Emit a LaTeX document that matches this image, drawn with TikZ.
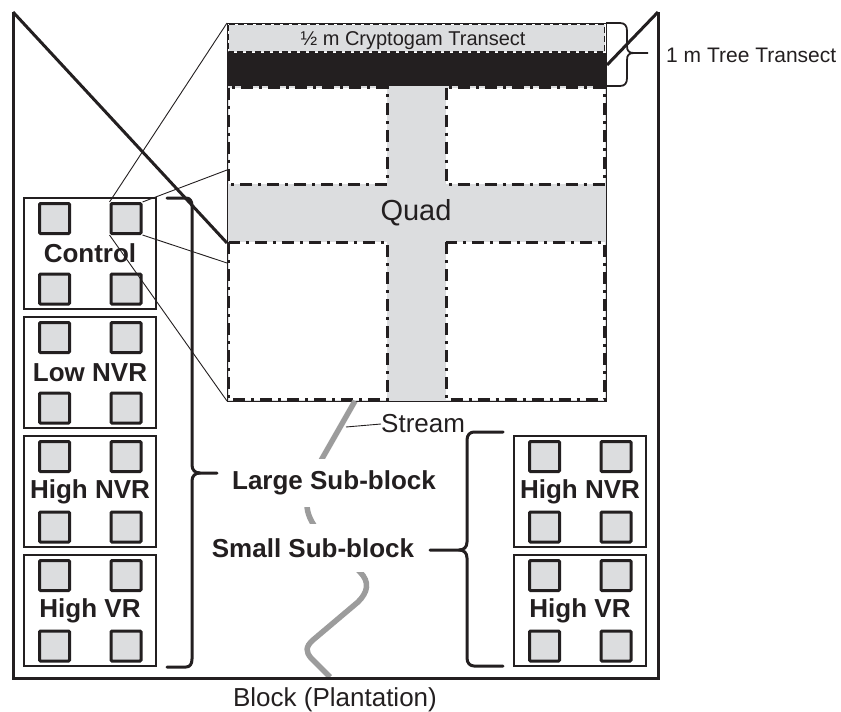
\documentclass[tikz,border=0pt]{standalone}
\usepackage{fontspec}
\setmainfont{Liberation Sans}
\usetikzlibrary{calc}
\definecolor{ink}{HTML}{231F20}
\definecolor{lightg}{HTML}{DCDDDF}
\definecolor{streamg}{HTML}{9C9C9C}
\newcommand\plotunit[4]{%
  \node[plotbox] (#1) at (#2,#3) {#4};
  \node[sq] (#1-a) at ($(#1.center)+(-35.5,-35)$) {};
  \node[sq] (#1-b) at ($(#1.center)+(36,-35)$) {};
  \node[sq] (#1-c) at ($(#1.center)+(-35.5,35.5)$) {};
  \node[sq] (#1-d) at ($(#1.center)+(36,35.5)$) {};
}
\begin{document}
\begin{tikzpicture}[x=1pt,y=-1pt,
  blockline/.style={draw=ink,line width=3pt},
  plotbox/.style={draw=ink,line width=1.8pt,minimum width=132pt,minimum height=111pt,inner sep=0pt,font=\bfseries\fontsize{26pt}{30pt}\selectfont,text=ink},
  sq/.style={draw=ink,fill=lightg,line width=3pt,minimum size=30pt,inner sep=0pt,rounded corners=1pt},
  leader/.style={draw=ink,line width=0.9pt},
  dashdot/.style={draw=ink,line width=3pt,dash pattern=on 12pt off 6pt on 3pt off 6pt},
  stream/.style={draw=streamg,line width=5.5pt},
  bracepath/.style={draw=ink,line width=3pt,line cap=round,line join=round},
  boldlabel/.style={font=\bfseries\fontsize{26pt}{30pt}\selectfont,text=ink},
  plainlabel/.style={text=ink}
]
\useasboundingbox (0,0) rectangle (841,712);

% ---------- quad fills ----------
\fill[lightg] (227,86) rectangle (606,401);
\draw[dashdot,fill=white] (228.5,87.5) rectangle (387,184);
\draw[dashdot,fill=white] (446,87.5) rectangle (604.5,184);
\draw[dashdot,fill=white] (228.5,242) rectangle (387,399.5);
\draw[dashdot,fill=white] (446,242) rectangle (604.5,399.5);
\draw[draw=ink,fill=lightg,line width=1.5pt,dash pattern=on 6pt off 3pt] (228.5,24.5) rectangle (604.5,52);
\fill[ink] (227,53) rectangle (606,86);
\node[draw=ink,line width=1pt,minimum width=379pt,minimum height=378pt,inner sep=0pt,outer sep=0pt,anchor=north west] (quad) at (227,23) {};
\node[plainlabel,font=\fontsize{20pt}{24pt}\selectfont] (crypto) at (413,41) {½ m Cryptogam Transect};
\node[plainlabel,font=\fontsize{29pt}{34pt}\selectfont] (quadlabel) at (416,213) {Quad};

% ---------- stream ----------
\draw[stream] (355,401) -- (323,457) .. controls (310,480) and (302,500) .. (310,518)
  .. controls (320,540) and (345,555) .. (360,572)
  .. controls (370,582) and (368,592) .. (358,602) -- (313,640)
  .. controls (305,647) and (306,652) .. (311,658) -- (330,677);

% ---------- block outline ----------
\coordinate (bltl) at (13,12);
\coordinate (bltr) at (658,12);
\coordinate (blbl) at (13,678);
\coordinate (blbr) at (658,678);
\draw[blockline,line join=miter] (bltl) -- (blbl) -- (blbr) -- (bltr);
\draw[blockline] (bltl) -- ($(quad.north west)+(0,220)$);
\draw[blockline] (bltr) -- ($(quad.north east)+(1,42)$);

% ---------- plot units ----------
\plotunit{c}{90}{253.5}{Control}
\plotunit{ln}{90}{372.5}{Low NVR}
\plotunit{hn}{90}{491.5}{High NVR}
\plotunit{hv}{90}{610.5}{High VR}
\plotunit{rhn}{580}{491.5}{High NVR}
\plotunit{rhv}{580}{610.5}{High VR}

% ---------- zoom connectors ----------
\draw[leader] (c-b.north west) -- (quad.north west);
\draw[leader] (c-b.north east) -- ($(quad.north west)+(0,147)$);
\draw[leader] (c-b.south east) -- ($(quad.north west)+(0,240)$);
\draw[leader] (c-b.south west) -- (quad.south west);

% ---------- braces ----------
\draw[bracepath] (167,198) -- (186,198) .. controls (190,198) and (192,201) .. (192,206) -- (192,465)
  .. controls (192,470) and (195,473) .. (200,473) -- (217,473);
\draw[bracepath] (200,473) .. controls (195,473) and (192,476) .. (192,481) -- (192,659)
  .. controls (192,664) and (190,667) .. (186,667) -- (167,667);
\draw[bracepath] (503,432) -- (474,432) .. controls (470,432) and (467,435) .. (467,440) -- (467,542)
  .. controls (467,547) and (464,550) .. (459,550) -- (430,550);
\draw[bracepath] (459,550) .. controls (464,550) and (467,553) .. (467,558) -- (467,658)
  .. controls (467,663) and (470,666) .. (474,666) -- (503,666);
\draw[draw=ink,line width=1.8pt,line join=round] (quad.north east) -- (620,23) .. controls (625,23) and (627,26) .. (627,31) -- (627,46)
  .. controls (627,51) and (629,53) .. (634,53) -- (648,53);
\draw[draw=ink,line width=1.8pt,line join=round] (634,53) .. controls (629,53) and (627,55) .. (627,60) -- (627,78)
  .. controls (627,83) and (625,86) .. (620,86) -- (606,86);

% ---------- labels ----------
\node[boldlabel,fill=white,minimum height=48pt,inner sep=3pt] (large) at (334,483) {Large Sub-block};
\node[boldlabel,fill=white,minimum height=48pt,inner sep=3pt] (small) at (313,548) {Small Sub-block};
\node[plainlabel,font=\fontsize{26pt}{30pt}\selectfont,anchor=west,inner sep=0pt] (streamlabel) at (381,424) {Stream};
\draw[leader] (346,427) -- (streamlabel.west);
\node[plainlabel,font=\fontsize{21pt}{25pt}\selectfont,anchor=west,inner sep=0pt] (tree) at (666,55) {1 m Tree Transect};
\node[plainlabel,font=\fontsize{26pt}{30pt}\selectfont] (blocklabel) at (335,700) {Block (Plantation)};
\end{tikzpicture}
\end{document}
